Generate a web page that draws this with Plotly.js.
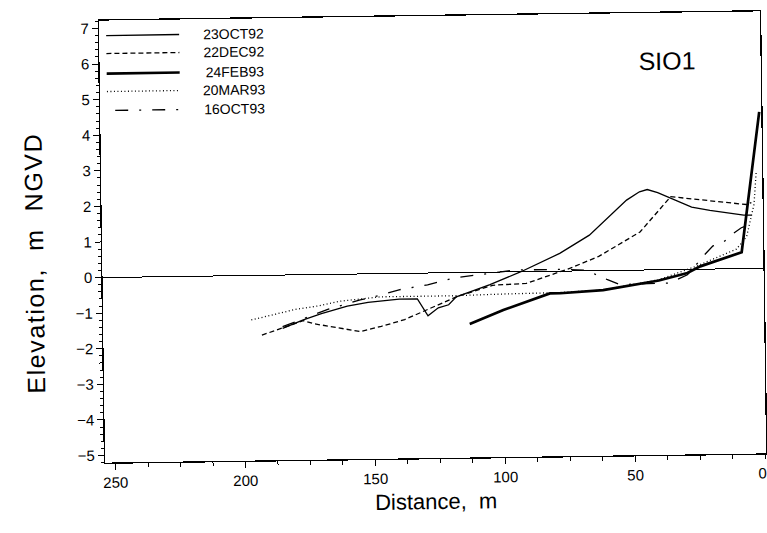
<!DOCTYPE html>
<html>
<head>
<meta charset="utf-8">
<script src="https://cdn.plot.ly/plotly-3.0.1.min.js"></script>
<style>
html,body{margin:0;padding:0;background:#fff;overflow:hidden;width:767px;height:533px;}
#chart{width:767px;height:533px;transform:rotate(-0.8deg);transform-origin:433px 237px;}
</style>
</head>
<body>
<div id="chart"></div>
<script>
// ---- data (distance m, elevation m NGVD) ----
const seriesNames = ["23OCT92", "22DEC92", "24FEB93", "20MAR93", "16OCT93"];

const dist23Oct92 = [185, 177, 170, 160, 152, 140, 133, 129, 125, 121, 118, 105, 93, 78, 66.5, 59, 52, 47, 44, 40, 33, 27, 20, 7, 4];
const elev23Oct92 = [-1.5, -1.27, -1.1, -0.9, -0.8, -0.72, -0.72, -1.2, -0.98, -0.9, -0.68, -0.35, 0.0, 0.5, 1.0, 1.5, 1.97, 2.2, 2.26, 2.17, 1.95, 1.75, 1.65, 1.5, 1.5];

const dist22Dec92 = [193, 177, 173, 164, 155, 147, 138, 118, 104, 91, 74, 63, 47, 35, 6, 4];
const elev22Dec92 = [-1.68, -1.29, -1.38, -1.5, -1.62, -1.48, -1.3, -0.68, -0.37, -0.33, 0.08, 0.4, 1.07, 2.05, 1.8, 1.85];

const dist24Feb93 = [113, 100, 82, 78, 61.5, 40, 29, 24, 8, 0.5];
const elev24Feb93 = [-1.45, -1.07, -0.62, -0.62, -0.55, -0.3, -0.1, 0.08, 0.46, 4.4];

const dist20Mar93 = [197, 180, 171, 163, 147, 120, 100, 85, 78, 62, 40, 25, 10, 6, 3, 2];
const elev20Mar93 = [-1.25, -0.97, -0.88, -0.76, -0.65, -0.65, -0.62, -0.6, -0.6, -0.55, -0.28, 0.1, 0.55, 0.9, 1.8, 2.7];

const dist16Oct93 = [185, 167, 155, 147, 140, 129, 119, 109, 95, 78, 68, 60, 55, 40, 36, 29, 27, 23, 19, 15, 11, 8, 6];
const elev16Oct93 = [-1.45, -0.97, -0.73, -0.6, -0.46, -0.33, -0.15, -0.06, 0.05, 0.05, 0.02, -0.25, -0.4, -0.38, -0.38, -0.15, 0.0, 0.35, 0.65, 0.75, 1.0, 1.15, 1.2];

const xTickValues = [250, 200, 150, 100, 50, 0];
const stationLabel = "SIO1";
const xTitle = "Distance,&nbsp; m";
const yTitle = "Elevation,&nbsp; m&nbsp; NGVD";

// ---- styling ----
const FONT = "Liberation Sans, Arial, Helvetica, sans-serif";
const styles = [
  {width: 1.3, dash: "solid"},
  {width: 1.3, dash: "5px,3px"},
  {width: 2.7, dash: "solid"},
  {width: 1.3, dash: "1px,2.5px"},
  {width: 1.3, dash: "13px,11px,2px,11px"}
];
const xs = [dist23Oct92, dist22Dec92, dist24Feb93, dist20Mar93, dist16Oct93];
const ys = [elev23Oct92, elev22Dec92, elev24Feb93, elev20Mar93, elev16Oct93];

const traces = seriesNames.map((n, i) => ({
  type: "scatter", mode: "lines", name: n,
  x: xs[i], y: ys[i],
  line: {color: "#000", width: styles[i].width, dash: styles[i].dash, shape: "linear"},
  showlegend: false, hoverinfo: "skip"
}));

// layout geometry in pixels
const W = 767, H = 533, ML = 102, MR = 4, MT = 16, MB = 75;
const PW = W - ML - MR, PH = H - MT - MB;
const px = X => (X - ML) / PW;
const py = Y => 1 - (Y - MT) / PH;

const legendRows = [31, 49, 69, 87, 106];
const legendLineX = [[109, 182], [109, 182], [109, 182], [109, 182], [117, 184]];
const shapes = [];
const annotations = [];
seriesNames.forEach((n, i) => {
  shapes.push({type: "line", xref: "paper", yref: "paper",
    x0: px(legendLineX[i][0]), x1: px(legendLineX[i][1]), y0: py(legendRows[i]), y1: py(legendRows[i]),
    line: {color: "#000", width: styles[i].width, dash: styles[i].dash}});
  annotations.push({xref: "paper", yref: "paper", x: px(269), y: py(legendRows[i]),
    xanchor: "right", yanchor: "middle", showarrow: false, text: n,
    font: {family: FONT, size: 14, color: "#000"}});
});
annotations.push({xref: "paper", yref: "paper", x: px(669), y: py(64), xanchor: "center", yanchor: "middle",
  showarrow: false, text: stationLabel, font: {family: FONT, size: 25, color: "#000"}});
// last tick label (0) sits at the right edge of the figure
annotations.push({xref: "x", yref: "paper", x: xTickValues[5], y: 0, yshift: -9, xshift: -3, xanchor: "center", yanchor: "top",
  showarrow: false, text: String(xTickValues[5]), font: {family: FONT, size: 15, color: "#000"}});
// y-axis title, placed like the original (slightly below the axis centre)
annotations.push({xref: "paper", yref: "paper", x: px(34), y: py(258), xanchor: "center", yanchor: "middle",
  textangle: -90, showarrow: false, text: yTitle, font: {family: FONT, size: 25, color: "#000"}});

const layout = {
  width: W, height: H,
  margin: {l: ML, r: MR, t: MT, b: MB},
  paper_bgcolor: "#fff", plot_bgcolor: "#fff",
  font: {family: FONT, color: "#000", size: 14},
  showlegend: false,
  xaxis: {
    range: [254, -0.3], tickmode: "array", tickvals: xTickValues.slice(0, 5),
    ticktext: xTickValues.slice(0, 5).map(String),
    ticks: "outside", ticklen: 6, tickwidth: 1, tickcolor: "#000",
    minor: {tickmode: "linear", tick0: 0, dtick: 12.5, ticks: "outside", ticklen: 4, tickcolor: "#000", tickwidth: 1},
    showgrid: false, zeroline: false, showline: true, linecolor: "#000", linewidth: 1.3, mirror: true,
    tickfont: {family: FONT, size: 15, color: "#000"},
    title: {text: xTitle, font: {family: FONT, size: 22, color: "#000"}, standoff: 8}
  },
  yaxis: {
    range: [-5.2, 7.22], tickmode: "linear", tick0: 0, dtick: 1,
    ticks: "outside", ticklen: 6, tickwidth: 1, tickcolor: "#000",
    minor: {tickmode: "linear", tick0: 0, dtick: 0.2, ticks: "outside", ticklen: 3, tickcolor: "#000", tickwidth: 1},
    showgrid: false, zeroline: true, zerolinecolor: "#000", zerolinewidth: 1,
    showline: true, linecolor: "#000", linewidth: 1.3, mirror: true,
    tickfont: {family: FONT, size: 15, color: "#000"}
  },
  shapes: shapes,
  annotations: annotations
};

Plotly.newPlot("chart", traces, layout, {displayModeBar: false, staticPlot: true}).then(() => {
  // slightly wider letter spacing on the y-axis title, as in the original typesetting
  document.querySelectorAll("#chart .annotation-text").forEach(t => {
    if (t.textContent.indexOf("Elevation") === 0) t.style.letterSpacing = "1.6px";
  });
});
</script>
</body>
</html>
